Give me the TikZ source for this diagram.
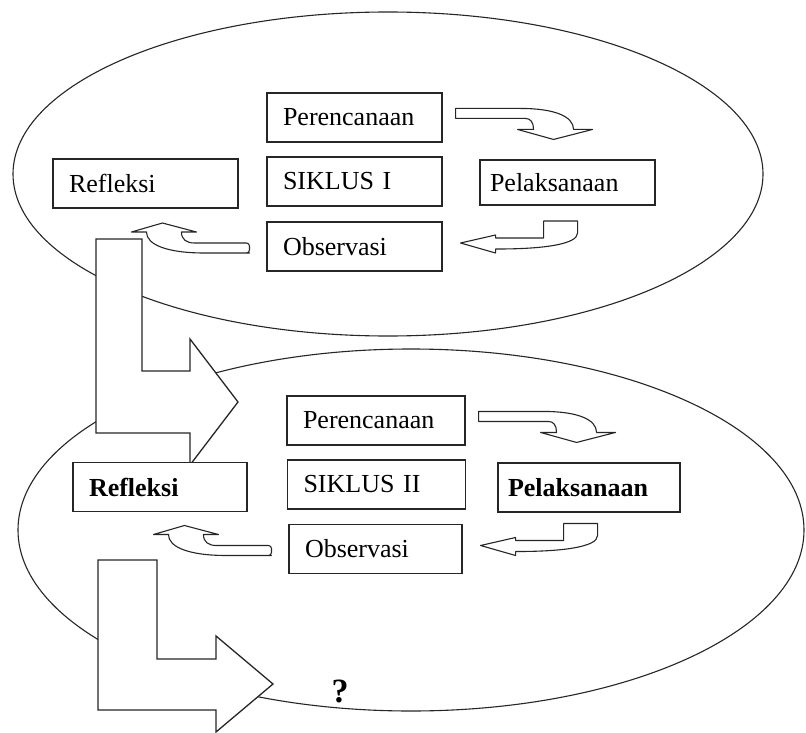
\documentclass[tikz,border=0pt]{standalone}
\usepackage{fontspec}
\setmainfont{Liberation Serif}

\tikzset{
  box/.style={draw=black!85,fill=white,line width=1.1pt,minimum height=49pt,
    inner xsep=16pt,text width=143pt,align=left,font=\fontsize{26}{30}\selectfont},
  hollow/.style={draw=black!85,fill=white,line width=1.1pt,line join=round},
  bigarrow/.style={draw=black!85,fill=white,line width=1.3pt,line join=miter},
  cycleline/.style={draw=black!85,line width=1.1pt}
}
% block arrow bending down, hung on a box's north east corner
\newcommand{\arrdown}[1]{%
  \draw[hollow,shift={(#1)}] (13,16) -- (78,16) .. controls (112,16) and (131,24) .. (131,37)
    -- (150,37) -- (111,47) -- (75,37) -- (91,37) .. controls (91,30) and (88,26) .. (83,26)
    -- (13,26) -- cycle;}
% block arrow coming back to the left, hung on a box's east side
\newcommand{\arrback}[1]{%
  \draw[hollow,shift={(#1)}] (18,-3.5) -- (53,-11.5) -- (53,-8.5) -- (101,-8.5) -- (101,-25.5)
    -- (135,-25.5) -- (135,-13.5) .. controls (135,-2) and (100,2.5) .. (55,2.5)
    -- (53,2.5) -- (53,6.5) -- cycle;}
% block arrow bending up, hung on a box's west side
\newcommand{\arrup}[1]{%
  \draw[hollow,shift={(#1)}] (-104,-23.5) -- (-70,-14.5) -- (-85,-14.5)
    .. controls (-85,-7) and (-80,-3.5) .. (-72,-3.5) -- (-20,-3.5)
    [rounded corners=3pt] -- (-17,-3.5) -- (-17,6.5) -- (-20,6.5) [sharp corners]
    -- (-62,6.5) .. controls (-100,6.5) and (-120,-2) .. (-120,-14.5) -- (-135,-14.5) -- cycle;}

\begin{document}
\begin{tikzpicture}[x=1pt,y=-1pt]
  \useasboundingbox (0,0) rectangle (806,733);
  \fill[white] (0,0) rectangle (806,733);

  % the two cycles
  \draw[cycleline] (388,174) ellipse [x radius=375, y radius=162];
  \draw[cycleline] (411,530) ellipse [x radius=393, y radius=181];

  % big arrows from one cycle to the next
  \draw[bigarrow] (96,239) -- (142,239) -- (142,371) -- (190,371) -- (190,339) -- (238,402)
    -- (190,465) -- (190,433) -- (96,433) -- cycle;
  \draw[bigarrow] (98,560) -- (157,560) -- (157,659) -- (216,659) -- (216,636) -- (273,684)
    -- (216,732) -- (216,710) -- (98,710) -- cycle;

  % first cycle
  \node[box] (per1) at (354.5,117.5) {Perencanaan};
  \node[box] (sik1) at (354.5,181.5) {SIKLUS I};
  \node[box] (obs1) at (354.5,246.5) {Observasi};
  \node[box,text width=153pt] (ref1) at (145.5,183.5) {Refleksi};
  \node[box,minimum height=45pt,inner xsep=10pt,text width=155pt] (pel1) at (567.5,182.5) {Pelaksanaan};
  \arrdown{per1.north east}
  \arrback{obs1.east}
  \arrup{obs1.west}

  % second cycle
  \node[box,text width=146pt] (per2) at (376,420.5) {Perencanaan};
  \node[box,text width=146pt] (sik2) at (376.5,484.5) {SIKLUS II};
  \node[box,text width=141pt] (obs2) at (375.5,549) {Observasi};
  \node[box,text width=142pt,font=\fontsize{26}{30}\selectfont\bfseries] (ref2) at (160,487) {Refleksi};
  \node[box,inner xsep=10pt,text width=162pt,font=\fontsize{26}{30}\selectfont\bfseries] (pel2) at (589,487.5) {Pelaksanaan};
  \arrdown{per2.north east}
  \arrback{obs2.east}
  \arrup{obs2.west}

  \node[font=\fontsize{34}{36}\selectfont\bfseries] (next) at (340,691) {?};
\end{tikzpicture}
\end{document}
